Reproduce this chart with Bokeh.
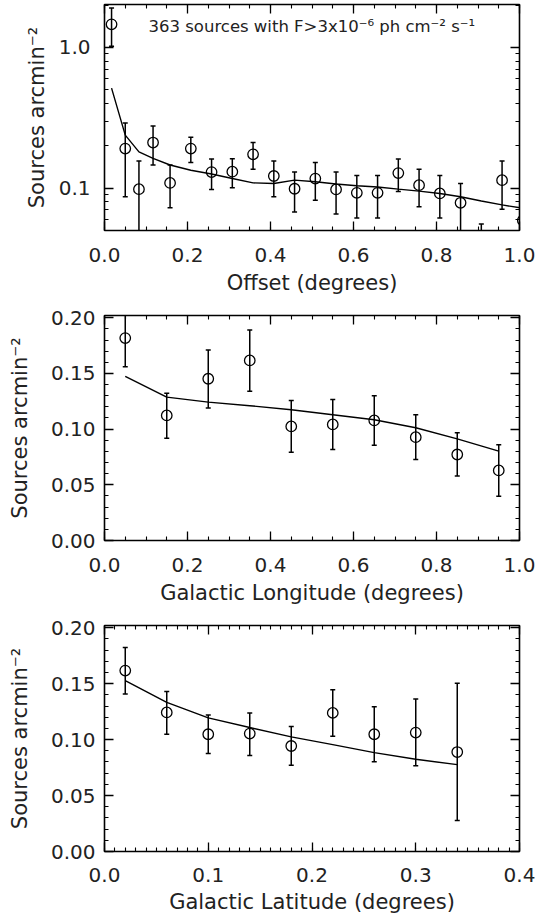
from bokeh.plotting import figure
from bokeh.models import (FixedTicker, LinearAxis, LogAxis, Whisker, TeeHead,
                          ColumnDataSource, Range1d, Label, CustomJSTickFormatter,
                          PrintfTickFormatter)
from bokeh.layouts import column
from bokeh.embed import file_html
from bokeh.resources import INLINE

FONT = "DejaVu Sans"
TXT = "#222222"

# ---- Panel 1: Offset ----
off_x = [0.017, 0.05, 0.083, 0.117, 0.158, 0.208, 0.258, 0.308, 0.358, 0.408, 0.458,
         0.508, 0.558, 0.608, 0.658, 0.708, 0.758, 0.808, 0.858, 0.908, 0.958, 1.008]
off_y = [1.46, 0.191, 0.0984, 0.211, 0.109, 0.191, 0.130, 0.131, 0.174, 0.122, 0.099,
         0.117, 0.098, 0.0926, 0.0926, 0.128, 0.105, 0.0917, 0.0787, 0.030, 0.114, 0.059]
off_hi = [1.91, 0.290, 0.156, 0.277, 0.146, 0.230, 0.161, 0.162, 0.211, 0.156, 0.130,
          0.152, 0.130, 0.123, 0.123, 0.161, 0.136, 0.123, 0.108, 0.0555, 0.156, 0.090]
off_lo = [1.02, 0.0868, 0.040, 0.146, 0.0725, 0.152, 0.0978, 0.1005, 0.136, 0.0868, 0.0676,
          0.0822, 0.0654, 0.0613, 0.0613, 0.0948, 0.0737, 0.0613, 0.045, 0.005, 0.0707, 0.030]
off_model = [0.514, 0.238, 0.181, 0.163, 0.146, 0.134, 0.126, 0.117, 0.109, 0.108, 0.114,
             0.111, 0.107, 0.104, 0.102, 0.0984, 0.0953, 0.0917, 0.0868, 0.081, 0.076, 0.072]

# ---- Panel 2: Galactic longitude ----
lon_x = [0.05, 0.15, 0.25, 0.35, 0.45, 0.55, 0.65, 0.75, 0.85, 0.95]
lon_y = [0.1817, 0.1123, 0.1452, 0.1617, 0.1024, 0.1042, 0.1078, 0.0928, 0.0772, 0.0629]
lon_hi = [0.208, 0.1323, 0.171, 0.189, 0.1257, 0.1266, 0.130, 0.1129, 0.0967, 0.086]
lon_lo = [0.156, 0.0919, 0.119, 0.134, 0.0793, 0.0817, 0.0856, 0.0727, 0.0578, 0.0398]
lon_model = [0.1473, 0.1287, 0.1242, 0.121, 0.1174, 0.1129, 0.1084, 0.1012, 0.0913, 0.0802]

# ---- Panel 3: Galactic latitude ----
lat_x = [0.02, 0.06, 0.10, 0.14, 0.18, 0.22, 0.26, 0.30, 0.34]
lat_y = [0.1617, 0.1243, 0.1048, 0.1054, 0.0943, 0.1239, 0.1048, 0.1063, 0.0889]
lat_hi = [0.1823, 0.1431, 0.1219, 0.1239, 0.1117, 0.1446, 0.1293, 0.1362, 0.1503]
lat_lo = [0.1407, 0.1048, 0.0875, 0.0859, 0.0770, 0.103, 0.0803, 0.0767, 0.0276]
lat_model = [0.1527, 0.1333, 0.1194, 0.1108, 0.1024, 0.0955, 0.0884, 0.0824, 0.0776]

y_title = "Sources arcmin\u207b\u00b2"
note_text = "363 sources with F>3x10\u207b\u2076 ph cm\u207b\u00b2 s\u207b\u00b9"


def style_axis(ax, labels=True, label_standoff=5):
    ax.axis_line_color = None
    ax.major_tick_in = 9
    ax.major_tick_out = 0
    ax.minor_tick_in = 4
    ax.minor_tick_out = 0
    ax.major_tick_line_color = "black"
    ax.minor_tick_line_color = "black"
    ax.major_tick_line_width = 1.3
    ax.minor_tick_line_width = 1.1
    ax.major_label_text_font = FONT
    ax.major_label_text_font_size = "20px"
    ax.major_label_text_color = TXT
    ax.major_label_standoff = label_standoff
    ax.axis_label_text_font = FONT
    ax.axis_label_text_font_size = "21px"
    ax.axis_label_text_font_style = "normal"
    ax.axis_label_text_color = TXT
    if not labels:
        ax.formatter = CustomJSTickFormatter(code="return ''")
        ax.major_label_standoff = 0
        ax.major_label_text_font_size = "1px"


def make_panel(xr, yr, xt, xmt, yt, ymt, xfmt, yfmt, xlabel, log, top_border,
               frame_h, bottom_border, xlab_standoff, xtitle_standoff,
               ylab_standoff, ytitle_standoff):
    p = figure(width=538, frame_width=415, frame_height=frame_h,
               x_range=Range1d(*xr), y_range=Range1d(*yr),
               y_axis_type="log" if log else "linear",
               output_backend="svg", toolbar_location=None,
               min_border_left=104, min_border_right=19,
               min_border_top=top_border, min_border_bottom=bottom_border)
    p.grid.visible = False
    p.outline_line_color = "black"
    p.outline_line_width = 1.6
    p.background_fill_color = "white"
    p.border_fill_color = "white"

    xticker = FixedTicker(ticks=xt, minor_ticks=xmt)
    yticker = FixedTicker(ticks=yt, minor_ticks=ymt)

    p.xaxis.ticker = xticker
    p.xaxis.formatter = PrintfTickFormatter(format=xfmt)
    p.xaxis.axis_label = xlabel
    p.yaxis.ticker = yticker
    p.yaxis.formatter = PrintfTickFormatter(format=yfmt)
    p.yaxis.axis_label = y_title
    for ax in p.xaxis:
        style_axis(ax, True, xlab_standoff)
        ax.axis_label_standoff = xtitle_standoff
    for ax in p.yaxis:
        style_axis(ax, True, ylab_standoff)
        ax.axis_label_standoff = ytitle_standoff

    top_ax = LinearAxis(ticker=xticker)
    style_axis(top_ax, labels=False)
    p.add_layout(top_ax, "above")
    right_ax = (LogAxis if log else LinearAxis)(ticker=yticker)
    style_axis(right_ax, labels=False)
    p.add_layout(right_ax, "right")
    return p


def add_data(p, xs, ys, lo, hi, model):
    src = ColumnDataSource(dict(x=xs, y=ys, lo=lo, hi=hi, m=model))
    w = Whisker(source=src, base="x", lower="lo", upper="hi", dimension="height",
                line_color="black", line_width=1.5,
                upper_head=TeeHead(size=5, line_color="black", line_width=1.5),
                lower_head=TeeHead(size=5, line_color="black", line_width=1.5))
    p.add_layout(w)
    p.line("x", "m", source=src, line_color="black", line_width=1.4)
    p.scatter("x", "y", source=src, marker="circle", size=10.5, fill_color=None,
              line_color="black", line_width=1.3)


# Panel 1
p1 = make_panel((0, 1), (0.05, 2.02),
                [0.0, 0.2, 0.4, 0.6, 0.8, 1.0],
                [round(0.05 * i, 2) for i in range(21)],
                [0.1, 1.0],
                [0.05, 0.06, 0.07, 0.08, 0.09, 0.2, 0.3, 0.4, 0.5, 0.6, 0.7, 0.8, 0.9, 2.0],
                "%.1f", "%.1f", "Offset (degrees)", True, 4, 226, 70,
                17, 6, 14, 7)
add_data(p1, off_x, off_y, off_lo, off_hi, off_model)
p1.add_layout(Label(x=44, y=204, x_units="screen", y_units="screen", text=note_text,
                    text_font=FONT, text_font_size="16.5px", text_color=TXT,
                    text_baseline="middle"))

# Panel 2
p2 = make_panel((0, 1), (0, 0.202),
                [0.0, 0.2, 0.4, 0.6, 0.8, 1.0],
                [round(0.05 * i, 2) for i in range(21)],
                [0.0, 0.05, 0.10, 0.15, 0.20],
                [round(0.01 * i, 2) for i in range(21)],
                "%.1f", "%.2f", "Galactic Longitude (degrees)", False, 15, 225, 70,
                17, 6, 9, 16)
add_data(p2, lon_x, lon_y, lon_lo, lon_hi, lon_model)

# Panel 3
p3 = make_panel((0, 0.4), (0, 0.202),
                [0.0, 0.1, 0.2, 0.3, 0.4],
                [round(0.01 * i, 2) for i in range(41)],
                [0.0, 0.05, 0.10, 0.15, 0.20],
                [round(0.01 * i, 2) for i in range(21)],
                "%.1f", "%.2f", "Galactic Latitude (degrees)", False, 15, 226, 66,
                16, 5, 9, 16)
add_data(p3, lat_x, lat_y, lat_lo, lat_hi, lat_model)

layout = column(p1, p2, p3, spacing=0)
open("out.html", "w").write(file_html(layout, INLINE))
